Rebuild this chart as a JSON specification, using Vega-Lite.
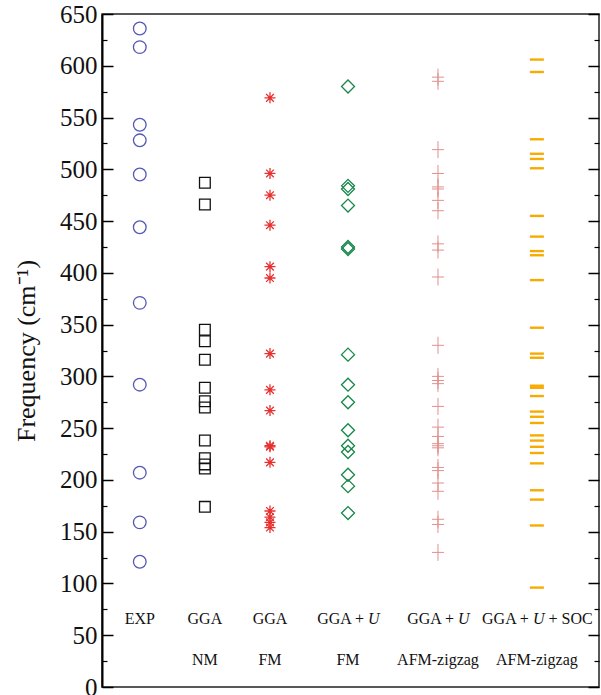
{
  "$schema": "https://vega.github.io/schema/vega-lite/v6.json",
  "width": 497,
  "height": 673,
  "autosize": {"type": "none"},
  "padding": {"left": 102, "top": 14, "right": 2, "bottom": 8},
  "background": "white",
  "config": {
    "font": "Liberation Serif",
    "view": {"stroke": "#222", "strokeWidth": 1.5},
    "axis": {"grid": false, "labelFont": "Liberation Serif", "titleFont": "Liberation Serif", "tickColor": "#000", "domainColor": "#000"}
  },
  "datasets": {
    "freq": [
      {"method": "EXP", "col": 0.76, "f": 636}, {"method": "EXP", "col": 0.76, "f": 618}, {"method": "EXP", "col": 0.76, "f": 543}, {"method": "EXP", "col": 0.76, "f": 528}, {"method": "EXP", "col": 0.76, "f": 495}, {"method": "EXP", "col": 0.76, "f": 444}, {"method": "EXP", "col": 0.76, "f": 371}, {"method": "EXP", "col": 0.76, "f": 292}, {"method": "EXP", "col": 0.76, "f": 207}, {"method": "EXP", "col": 0.76, "f": 159}, {"method": "EXP", "col": 0.76, "f": 121},
      {"method": "GGA NM", "col": 2.07, "f": 487}, {"method": "GGA NM", "col": 2.07, "f": 466}, {"method": "GGA NM", "col": 2.07, "f": 345}, {"method": "GGA NM", "col": 2.07, "f": 334}, {"method": "GGA NM", "col": 2.07, "f": 316}, {"method": "GGA NM", "col": 2.07, "f": 289}, {"method": "GGA NM", "col": 2.07, "f": 276}, {"method": "GGA NM", "col": 2.07, "f": 270}, {"method": "GGA NM", "col": 2.07, "f": 238}, {"method": "GGA NM", "col": 2.07, "f": 221}, {"method": "GGA NM", "col": 2.07, "f": 215}, {"method": "GGA NM", "col": 2.07, "f": 211}, {"method": "GGA NM", "col": 2.07, "f": 174},
      {"method": "GGA FM", "col": 3.38, "f": 569}, {"method": "GGA FM", "col": 3.38, "f": 496}, {"method": "GGA FM", "col": 3.38, "f": 475}, {"method": "GGA FM", "col": 3.38, "f": 446}, {"method": "GGA FM", "col": 3.38, "f": 406}, {"method": "GGA FM", "col": 3.38, "f": 395}, {"method": "GGA FM", "col": 3.38, "f": 322}, {"method": "GGA FM", "col": 3.38, "f": 287}, {"method": "GGA FM", "col": 3.38, "f": 267}, {"method": "GGA FM", "col": 3.38, "f": 233}, {"method": "GGA FM", "col": 3.38, "f": 232}, {"method": "GGA FM", "col": 3.38, "f": 217}, {"method": "GGA FM", "col": 3.38, "f": 170}, {"method": "GGA FM", "col": 3.38, "f": 164}, {"method": "GGA FM", "col": 3.38, "f": 159}, {"method": "GGA FM", "col": 3.38, "f": 154},
      {"method": "GGA+U FM", "col": 4.95, "f": 580}, {"method": "GGA+U FM", "col": 4.95, "f": 484}, {"method": "GGA+U FM", "col": 4.95, "f": 481}, {"method": "GGA+U FM", "col": 4.95, "f": 465}, {"method": "GGA+U FM", "col": 4.95, "f": 425}, {"method": "GGA+U FM", "col": 4.95, "f": 423}, {"method": "GGA+U FM", "col": 4.95, "f": 321}, {"method": "GGA+U FM", "col": 4.95, "f": 292}, {"method": "GGA+U FM", "col": 4.95, "f": 275}, {"method": "GGA+U FM", "col": 4.95, "f": 248}, {"method": "GGA+U FM", "col": 4.95, "f": 233}, {"method": "GGA+U FM", "col": 4.95, "f": 227}, {"method": "GGA+U FM", "col": 4.95, "f": 205}, {"method": "GGA+U FM", "col": 4.95, "f": 194}, {"method": "GGA+U FM", "col": 4.95, "f": 168},
      {"method": "GGA+U AFM", "col": 6.76, "f": 589}, {"method": "GGA+U AFM", "col": 6.76, "f": 585}, {"method": "GGA+U AFM", "col": 6.76, "f": 519}, {"method": "GGA+U AFM", "col": 6.76, "f": 496}, {"method": "GGA+U AFM", "col": 6.76, "f": 483}, {"method": "GGA+U AFM", "col": 6.76, "f": 481}, {"method": "GGA+U AFM", "col": 6.76, "f": 470}, {"method": "GGA+U AFM", "col": 6.76, "f": 460}, {"method": "GGA+U AFM", "col": 6.76, "f": 428}, {"method": "GGA+U AFM", "col": 6.76, "f": 422}, {"method": "GGA+U AFM", "col": 6.76, "f": 396}, {"method": "GGA+U AFM", "col": 6.76, "f": 330}, {"method": "GGA+U AFM", "col": 6.76, "f": 300}, {"method": "GGA+U AFM", "col": 6.76, "f": 296}, {"method": "GGA+U AFM", "col": 6.76, "f": 293}, {"method": "GGA+U AFM", "col": 6.76, "f": 271}, {"method": "GGA+U AFM", "col": 6.76, "f": 251}, {"method": "GGA+U AFM", "col": 6.76, "f": 242}, {"method": "GGA+U AFM", "col": 6.76, "f": 235}, {"method": "GGA+U AFM", "col": 6.76, "f": 233}, {"method": "GGA+U AFM", "col": 6.76, "f": 231}, {"method": "GGA+U AFM", "col": 6.76, "f": 212}, {"method": "GGA+U AFM", "col": 6.76, "f": 209}, {"method": "GGA+U AFM", "col": 6.76, "f": 197}, {"method": "GGA+U AFM", "col": 6.76, "f": 189}, {"method": "GGA+U AFM", "col": 6.76, "f": 162}, {"method": "GGA+U AFM", "col": 6.76, "f": 157}, {"method": "GGA+U AFM", "col": 6.76, "f": 130},
      {"method": "SOC", "col": 8.75, "f": 606}, {"method": "SOC", "col": 8.75, "f": 594}, {"method": "SOC", "col": 8.75, "f": 529}, {"method": "SOC", "col": 8.75, "f": 515}, {"method": "SOC", "col": 8.75, "f": 510}, {"method": "SOC", "col": 8.75, "f": 501}, {"method": "SOC", "col": 8.75, "f": 455}, {"method": "SOC", "col": 8.75, "f": 435}, {"method": "SOC", "col": 8.75, "f": 421}, {"method": "SOC", "col": 8.75, "f": 417}, {"method": "SOC", "col": 8.75, "f": 393}, {"method": "SOC", "col": 8.75, "f": 347}, {"method": "SOC", "col": 8.75, "f": 322}, {"method": "SOC", "col": 8.75, "f": 318}, {"method": "SOC", "col": 8.75, "f": 291}, {"method": "SOC", "col": 8.75, "f": 289}, {"method": "SOC", "col": 8.75, "f": 281}, {"method": "SOC", "col": 8.75, "f": 266}, {"method": "SOC", "col": 8.75, "f": 261}, {"method": "SOC", "col": 8.75, "f": 255}, {"method": "SOC", "col": 8.75, "f": 243}, {"method": "SOC", "col": 8.75, "f": 238}, {"method": "SOC", "col": 8.75, "f": 232}, {"method": "SOC", "col": 8.75, "f": 226}, {"method": "SOC", "col": 8.75, "f": 216}, {"method": "SOC", "col": 8.75, "f": 190}, {"method": "SOC", "col": 8.75, "f": 181}, {"method": "SOC", "col": 8.75, "f": 156}, {"method": "SOC", "col": 8.75, "f": 96}
    ],
    "labels": [
      {"col": 0.76, "f": 65.6, "text": "EXP"},
      {"col": 2.07, "f": 65.6, "text": "GGA"},
      {"col": 3.38, "f": 65.6, "text": "GGA"},
      {"col": 2.07, "f": 26, "text": "NM"},
      {"col": 3.38, "f": 26, "text": "FM"},
      {"col": 4.95, "f": 26, "text": "FM"},
      {"col": 6.76, "f": 26, "text": "AFM-zigzag"},
      {"col": 8.75, "f": 26, "text": "AFM-zigzag"}
    ],
    "ggau": [
      {"col": 4.95, "f": 65.6},
      {"col": 6.76, "f": 65.6}
    ],
    "soc": [
      {"col": 8.75, "f": 65.6}
    ]
  },
  "resolve": {"axis": {"y": "independent"}},
  "layer": [
    {
      "data": {"name": "freq"},
      "transform": [{"filter": "datum.method === 'EXP'"}],
      "mark": {"type": "point", "shape": "circle", "filled": false, "opacity": 1, "size": 160, "strokeWidth": 1.3, "color": "#5458b0"},
      "encoding": {
        "x": {"field": "col", "type": "quantitative", "scale": {"domain": [0, 10]}, "axis": null},
        "y": {"field": "f", "type": "quantitative", "scale": {"domain": [0, 650], "nice": false},
          "axis": {"orient": "left", "values": [0, 50, 100, 150, 200, 250, 300, 350, 400, 450, 500, 550, 600, 650],
            "tickSize": -11, "tickWidth": 1.5, "labelFontSize": 25, "labelPadding": 16, "labelColor": "#111",
            "domainWidth": 2, "title": "Frequency (cm⁻¹)", "titleFontSize": 26, "titleFontWeight": "normal", "titleColor": "#111", "titlePadding": 20}}
      }
    },
    {
      "data": {"name": "freq"},
      "transform": [{"filter": "datum.method === 'GGA NM'"}],
      "mark": {"type": "point", "shape": "square", "filled": false, "opacity": 1, "size": 115, "strokeWidth": 1.3, "color": "#111"},
      "encoding": {
        "x": {"field": "col", "type": "quantitative", "axis": null},
        "y": {"field": "f", "type": "quantitative",
          "axis": {"orient": "left", "values": [25, 75, 125, 175, 225, 275, 325, 375, 425, 475, 525, 575, 625],
            "tickSize": -5, "tickWidth": 1.2, "labels": false, "domain": false, "title": null}}
      }
    },
    {
      "data": {"name": "freq"},
      "transform": [{"filter": "datum.method === 'GGA FM'"}],
      "mark": {"type": "point", "shape": "M0,-1V1M-1,0H1M-0.7,-0.7L0.7,0.7M-0.7,0.7L0.7,-0.7", "filled": false, "opacity": 1, "size": 121, "strokeWidth": 1.3, "color": "#e8312f"},
      "encoding": {
        "x": {"field": "col", "type": "quantitative", "axis": null},
        "y": {"field": "f", "type": "quantitative",
          "axis": {"orient": "right", "values": [0, 50, 100, 150, 200, 250, 300, 350, 400, 450, 500, 550, 600, 650],
            "tickSize": -11, "tickWidth": 1.5, "labels": false, "domain": false, "title": null}}
      }
    },
    {
      "data": {"name": "freq"},
      "transform": [{"filter": "datum.method === 'GGA+U FM'"}],
      "mark": {"type": "point", "shape": "diamond", "filled": false, "opacity": 1, "size": 169, "strokeWidth": 1.3, "color": "#17874a"},
      "encoding": {
        "x": {"field": "col", "type": "quantitative", "axis": null},
        "y": {"field": "f", "type": "quantitative",
          "axis": {"orient": "right", "values": [25, 75, 125, 175, 225, 275, 325, 375, 425, 475, 525, 575, 625],
            "tickSize": -5, "tickWidth": 1.2, "labels": false, "domain": false, "title": null}}
      }
    },
    {
      "data": {"name": "freq"},
      "transform": [{"filter": "datum.method === 'GGA+U AFM'"}],
      "mark": {"type": "point", "shape": "M-0.7,0H0.7M0,-1V1", "filled": false, "opacity": 1, "size": 289, "strokeWidth": 1, "color": "#e0908d"},
      "encoding": {
        "x": {"field": "col", "type": "quantitative", "axis": null},
        "y": {"field": "f", "type": "quantitative", "axis": null}
      }
    },
    {
      "data": {"name": "freq"},
      "transform": [{"filter": "datum.method === 'SOC'"}],
      "mark": {"type": "point", "shape": "M-1,-0.17H1V0.17H-1Z", "filled": true, "opacity": 1, "size": 196, "strokeWidth": 0, "color": "#f7ab00"},
      "encoding": {
        "x": {"field": "col", "type": "quantitative", "axis": null},
        "y": {"field": "f", "type": "quantitative", "axis": null}
      }
    },
    {
      "data": {"name": "labels"},
      "mark": {"type": "text", "font": "Liberation Serif", "fontSize": 16, "color": "#111", "align": "center", "baseline": "middle"},
      "encoding": {
        "x": {"field": "col", "type": "quantitative", "axis": null},
        "y": {"field": "f", "type": "quantitative", "axis": null},
        "text": {"field": "text"}
      }
    },
    {
      "data": {"name": "ggau"},
      "mark": {"type": "text", "font": "Liberation Serif", "fontSize": 16, "color": "#111", "align": "right", "baseline": "middle", "dx": 16},
      "encoding": {
        "x": {"field": "col", "type": "quantitative", "axis": null},
        "y": {"field": "f", "type": "quantitative", "axis": null},
        "text": {"value": "GGA +"}
      }
    },
    {
      "data": {"name": "ggau"},
      "mark": {"type": "text", "font": "Liberation Serif", "fontSize": 16, "fontStyle": "italic", "color": "#111", "align": "left", "baseline": "middle", "dx": 20},
      "encoding": {
        "x": {"field": "col", "type": "quantitative", "axis": null},
        "y": {"field": "f", "type": "quantitative", "axis": null},
        "text": {"value": "U"}
      }
    },
    {
      "data": {"name": "soc"},
      "mark": {"type": "text", "font": "Liberation Serif", "fontSize": 16, "color": "#111", "align": "right", "baseline": "middle", "dx": -8},
      "encoding": {
        "x": {"field": "col", "type": "quantitative", "axis": null},
        "y": {"field": "f", "type": "quantitative", "axis": null},
        "text": {"value": "GGA +"}
      }
    },
    {
      "data": {"name": "soc"},
      "mark": {"type": "text", "font": "Liberation Serif", "fontSize": 16, "fontStyle": "italic", "color": "#111", "align": "left", "baseline": "middle", "dx": -4},
      "encoding": {
        "x": {"field": "col", "type": "quantitative", "axis": null},
        "y": {"field": "f", "type": "quantitative", "axis": null},
        "text": {"value": "U"}
      }
    },
    {
      "data": {"name": "soc"},
      "mark": {"type": "text", "font": "Liberation Serif", "fontSize": 16, "color": "#111", "align": "left", "baseline": "middle", "dx": 11.6},
      "encoding": {
        "x": {"field": "col", "type": "quantitative", "axis": null},
        "y": {"field": "f", "type": "quantitative", "axis": null},
        "text": {"value": "+ SOC"}
      }
    }
  ]
}
